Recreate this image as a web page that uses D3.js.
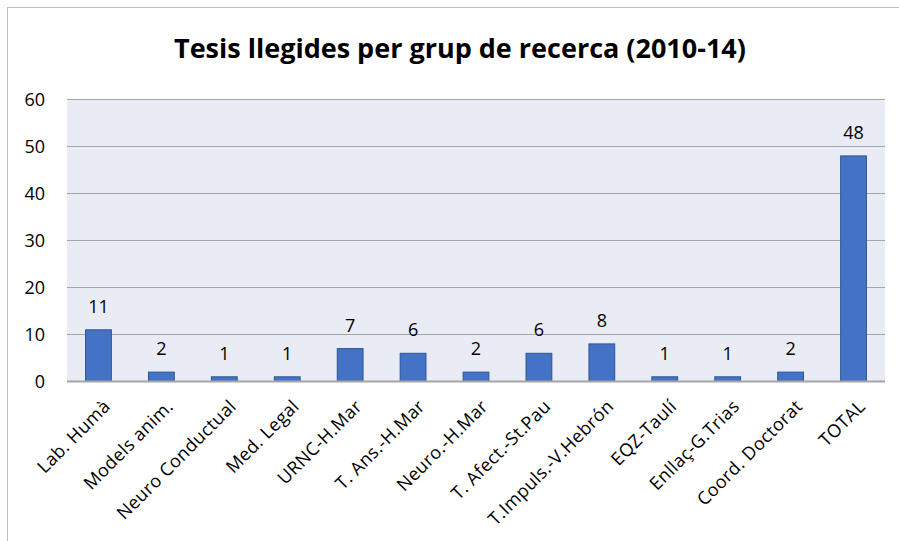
<!DOCTYPE html>
<html>
<head>
<meta charset="utf-8">
<script src="https://cdn.jsdelivr.net/npm/d3@7"></script>
<style>
  body { margin: 0; background: #fff; }
  svg text { font-family: "Open Sans", "Noto Sans", sans-serif; fill: #000; }
</style>
</head>
<body>
<div id="chart"></div>
<script>
const groups = ["Lab. Humà", "Models anim.", "Neuro Conductual", "Med. Legal", "URNC-H.Mar",
    "T. Ans.-H.Mar", "Neuro.-H.Mar", "T. Afect.-St.Pau", "T.Impuls.-V.Hebrón", "EQZ-Taulí",
    "Enllaç-G.Trias", "Coord. Doctorat", "TOTAL"]
const theses = [11, 2, 1, 1, 7, 6, 2, 6, 8, 1, 1, 2, 48]
const yTicks = [0, 10, 20, 30, 40, 50, 60]

const width = 899
const height = 541
const margin = ({ top: 99.5, right: 14, bottom: 159.5, left: 67 })

const svg = d3.select("#chart")
    .append("svg")
    .attr("width", width)
    .attr("height", height)

// chart frame
svg.append("rect")
    .attr("x", 7.5).attr("y", 7.5)
    .attr("width", width + 10).attr("height", height + 10)
    .attr("fill", "none").attr("stroke", "#bfbfbf").attr("stroke-width", 1)

svg.append("text")
    .attr("x", 460).attr("y", 58)
    .attr("text-anchor", "middle")
    .attr("font-size", 27).attr("font-weight", "bold")
    .text("Tesis llegides per grup de recerca (2010-14)")

const xScale = d3.scaleBand()
    .domain(groups)
    .range([margin.left, width - margin.right])
    .paddingInner(0.59)
    .paddingOuter(0.295)

const yScale = d3.scaleLinear()
    .domain([0, 60])
    .range([height - margin.bottom, margin.top])

// plot background
svg.append("rect")
    .attr("x", margin.left).attr("y", margin.top)
    .attr("width", width - margin.right - margin.left)
    .attr("height", height - margin.bottom - margin.top)
    .attr("fill", "#e9ebf5")

// gridlines
svg.append("g")
    .selectAll("line")
    .data(yTicks.slice(1))
    .enter().append("line")
    .attr("x1", margin.left).attr("x2", width - margin.right)
    .attr("y1", d => yScale(d)).attr("y2", d => yScale(d))
    .attr("stroke", "#a6a6a6").attr("stroke-width", 1)

// y axis labels
const yAxis = svg.append("g")
    .attr("transform", `translate(${margin.left - 19},0)`)
    .call(d3.axisLeft(yScale).tickValues(yTicks).tickSize(0))
yAxis.select(".domain").remove()
yAxis.selectAll("text").attr("font-size", 18).attr("dy", "0.35em")

// bars
svg.append("g")
    .selectAll("rect")
    .data(theses)
    .enter().append("rect")
    .attr("x", (d, i) => xScale(groups[i]))
    .attr("y", d => yScale(d))
    .attr("width", xScale.bandwidth())
    .attr("height", d => yScale(0) - yScale(d))
    .attr("fill", "#4472c4")
    .attr("stroke", "#2f5597").attr("stroke-width", 1)

// baseline
svg.append("line")
    .attr("x1", margin.left).attr("x2", width - margin.right)
    .attr("y1", yScale(0)).attr("y2", yScale(0))
    .attr("stroke", "#a6a6a6").attr("stroke-width", 2)

// value labels
svg.append("g")
    .selectAll("text")
    .data(theses)
    .enter().append("text")
    .attr("x", (d, i) => xScale(groups[i]) + xScale.bandwidth() / 2)
    .attr("y", d => yScale(d) - 17)
    .attr("text-anchor", "middle")
    .attr("font-size", 18)
    .text(d => d)

// x axis labels
const xAxis = svg.append("g")
    .attr("transform", `translate(0,${yScale(0)})`)
    .call(d3.axisBottom(xScale).tickSize(0))
xAxis.select(".domain").remove()
xAxis.selectAll("text")
    .attr("font-size", 18)
    .style("letter-spacing", "0.4px")
    .attr("text-anchor", "end")
    .attr("dy", 0)
    .attr("y", 0)
    .attr("transform", "translate(13,26) rotate(-45)")
</script>
</body>
</html>
